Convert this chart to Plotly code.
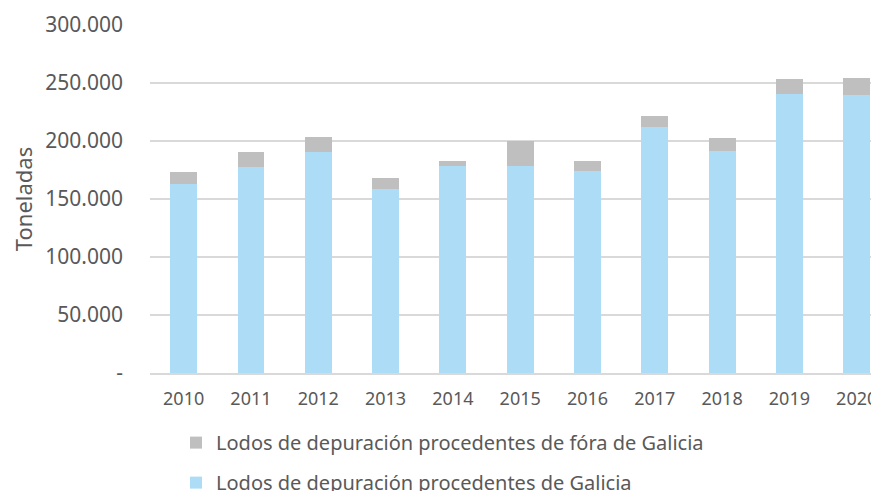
import plotly.graph_objects as go

years = ["2010", "2011", "2012", "2013", "2014", "2015", "2016", "2017", "2018", "2019", "2020"]
galicia = [162900, 177600, 190300, 158600, 178400, 178400, 174100, 212300, 191600, 240500, 239900]
fora = [10100, 13200, 12900, 9200, 4600, 21300, 8400, 9000, 10700, 13200, 14700]

y_tickvals = [0, 50000, 100000, 150000, 200000, 250000, 300000]
y_ticktext = ["-", "50.000", "100.000", "150.000", "200.000", "250.000", "300.000"]

name_galicia = "Lodos de depuración procedentes de Galicia"
name_fora = "Lodos de depuración procedentes de fóra de Galicia"

font_family = "Noto Sans"
text_color = "#595959"

fig = go.Figure()
fig.add_trace(go.Bar(x=years, y=galicia, name=name_galicia, marker_color="#ADDCF7",
                     marker_line_width=0, legendgroup="a", legendrank=2))
fig.add_trace(go.Bar(x=years, y=fora, name=name_fora, marker_color="#BFBFBF",
                     marker_line_width=0, legendgroup="b", legendrank=1))

fig.update_layout(
    width=879, height=491,
    barmode="stack", bargap=0.6,
    plot_bgcolor="white", paper_bgcolor="white",
    margin=dict(l=142, r=0, t=17, b=126, autoexpand=False),
    font=dict(family=font_family, size=17, color=text_color),
    xaxis=dict(type="category", range=[-0.5, 10.45], showline=True, linecolor="#D9D9D9",
               linewidth=1.5, ticks="", tickfont=dict(size=18), showgrid=False,
               ticklabelstandoff=9, automargin=False),
    yaxis=dict(range=[0, 300000], tickvals=y_tickvals, ticktext=y_ticktext,
               showgrid=True, gridcolor="#D9D9D9", gridwidth=1.5, zeroline=False,
               ticks="", ticklabelstandoff=26, tickfont=dict(size=21), automargin=False,
               title=dict(text="Toneladas", font=dict(size=22), standoff=22)),
    legend=dict(orientation="v", x=0.0353, xanchor="left", y=-0.144, yanchor="top",
                traceorder="grouped", tracegroupgap=11,
                font=dict(size=20, color=text_color), itemwidth=30),
    showlegend=True,
)

fig.write_html("out.html")
